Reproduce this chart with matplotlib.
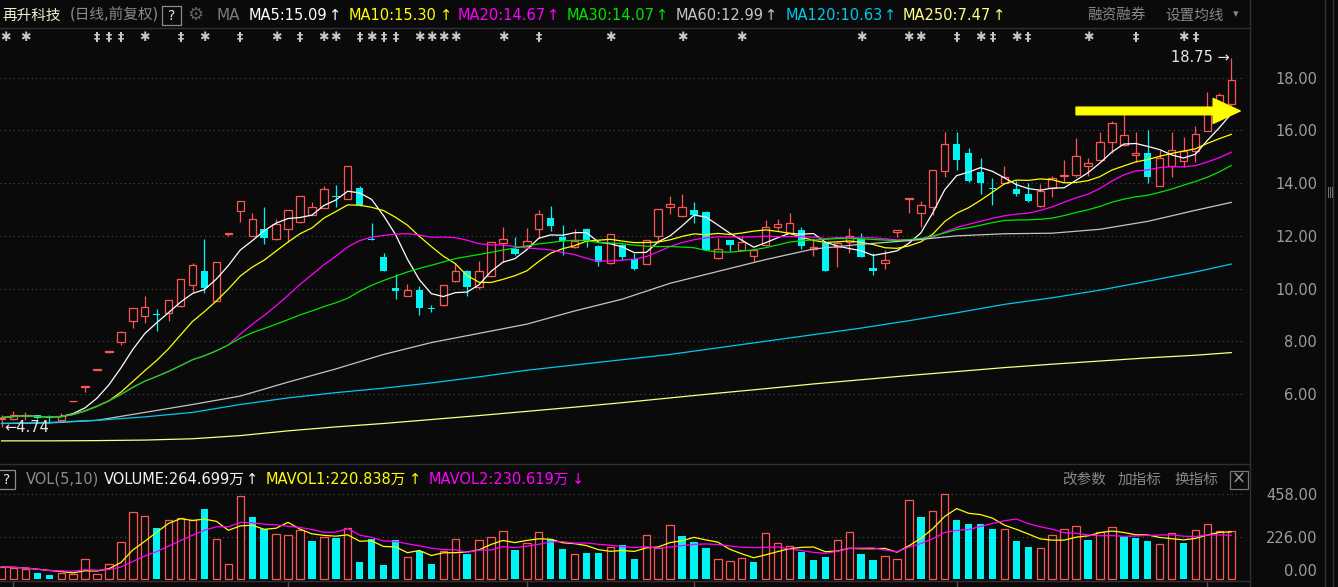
import numpy as np
import pandas as pd
import matplotlib
matplotlib.use('Agg')
import matplotlib.pyplot as plt
from matplotlib.patches import Rectangle

plt.rcParams['font.family'] = ['DejaVu Sans', 'Noto Sans CJK SC']

# daily bars (left -> right)
opens = [5.05, 5.04, 5.18, 5.19, 5.14, 5.03, 5.72, 6.28, 6.92, 7.61,
         7.96, 8.78, 8.97, 9.05, 9.08, 9.32, 10.12, 10.66, 9.54, 12.08,
         12.95, 12.00, 12.26, 11.87, 12.25, 12.54, 12.80, 13.07, 13.53, 13.38,
         13.80, 11.86, 11.20, 10.03, 9.73, 9.94, 9.25, 9.36, 10.27, 10.66,
         10.05, 10.46, 11.74, 11.51, 11.62, 12.25, 12.68, 11.94, 11.57, 12.25,
         11.62, 10.96, 11.65, 11.11, 10.94, 12.00, 13.08, 12.74, 12.97, 12.89,
         11.17, 11.83, 11.46, 11.25, 11.64, 12.35, 12.12, 12.22, 11.52, 11.71,
         11.56, 11.75, 11.88, 10.78, 10.96, 12.14, 13.40, 12.88, 13.10, 14.47,
         15.48, 15.14, 14.42, 13.82, 13.99, 13.78, 13.59, 13.14, 13.83, 14.28,
         14.31, 14.66, 14.88, 15.55, 15.43, 15.05, 15.13, 13.89, 14.65, 14.85,
         15.22, 15.99, 16.95, 17.00]
highs = [5.20, 5.35, 5.30, 5.22, 5.20, 5.26, 5.73, 6.30, 6.93, 7.62,
         8.38, 9.25, 9.72, 9.21, 9.58, 10.35, 10.96, 11.87, 11.00, 12.10,
         13.31, 12.88, 13.08, 12.64, 12.98, 13.50, 13.28, 13.89, 13.93, 14.64,
         13.89, 12.47, 11.34, 10.54, 10.16, 10.10, 9.37, 10.12, 10.96, 10.70,
         11.04, 11.75, 12.35, 11.94, 12.28, 12.98, 13.13, 12.40, 12.25, 12.30,
         11.65, 12.08, 11.70, 11.34, 11.85, 13.02, 13.51, 13.59, 13.27, 12.93,
         11.93, 11.85, 12.00, 11.50, 12.60, 12.64, 12.88, 12.33, 11.90, 11.72,
         11.78, 12.28, 12.10, 11.34, 11.46, 12.21, 13.42, 13.32, 14.49, 15.95,
         15.95, 15.33, 14.95, 14.18, 14.65, 14.08, 13.99, 13.97, 14.27, 14.88,
         15.72, 14.96, 15.95, 16.36, 16.62, 15.95, 16.02, 15.26, 15.95, 15.74,
         16.17, 17.47, 17.43, 18.75]
lows = [4.74, 5.00, 5.03, 5.05, 4.88, 4.98, 5.70, 6.08, 6.92, 7.55,
        7.86, 8.49, 8.70, 8.40, 8.78, 9.30, 9.88, 9.84, 9.54, 12.00,
        12.54, 12.00, 11.69, 11.85, 11.78, 12.50, 12.78, 13.05, 13.10, 13.38,
        13.15, 11.84, 10.66, 9.60, 9.72, 9.00, 9.10, 9.33, 10.25, 9.73,
        10.00, 10.44, 11.02, 11.28, 11.60, 11.90, 12.19, 11.26, 11.55, 11.59,
        10.87, 10.95, 11.10, 10.70, 10.92, 11.74, 12.82, 12.72, 12.50, 11.48,
        11.14, 11.43, 11.44, 11.00, 11.60, 12.22, 12.10, 11.50, 11.25, 10.66,
        10.82, 11.36, 11.18, 10.52, 10.73, 11.97, 12.85, 12.35, 12.79, 14.24,
        14.50, 14.05, 13.59, 13.18, 13.97, 13.52, 13.30, 13.10, 13.48, 14.05,
        14.22, 14.27, 14.85, 15.13, 15.40, 14.81, 14.02, 13.88, 14.22, 14.63,
        14.81, 15.98, 16.90, 16.80]
closes = [5.10, 5.19, 5.20, 5.09, 5.08, 5.17, 5.73, 6.30, 6.93, 7.62,
          8.36, 9.25, 9.29, 9.00, 9.55, 10.35, 10.88, 10.03, 11.00, 12.10,
          13.31, 12.63, 11.93, 12.45, 12.97, 13.50, 13.08, 13.76, 13.49, 14.64,
          13.17, 11.85, 10.68, 9.92, 9.95, 9.27, 9.22, 10.12, 10.66, 10.07,
          10.66, 11.75, 11.87, 11.32, 11.79, 12.82, 12.38, 11.80, 11.82, 11.80,
          11.00, 12.08, 11.20, 10.74, 11.84, 13.01, 13.21, 13.08, 12.80, 11.48,
          11.49, 11.66, 11.76, 11.46, 12.32, 12.44, 12.49, 11.61, 11.58, 10.68,
          11.74, 11.98, 11.21, 10.68, 11.08, 12.21, 13.42, 13.16, 14.49, 15.47,
          14.89, 14.08, 14.02, 13.78, 14.24, 13.60, 13.33, 13.71, 14.18, 14.30,
          15.03, 14.76, 15.55, 16.27, 15.81, 15.13, 14.22, 14.94, 15.26, 15.22,
          15.85, 16.85, 17.34, 17.91]
# volume in 万 shares
volumes = [66, 63, 54, 34, 22, 36, 27, 111, 27, 84,
           203, 364, 343, 274, 321, 328, 317, 378, 215, 80,
           446, 335, 269, 244, 238, 265, 206, 229, 222, 274,
           93, 217, 77, 211, 118, 152, 82, 150, 215, 136,
           210, 226, 258, 158, 194, 253, 215, 163, 134, 142,
           142, 172, 185, 109, 237, 167, 290, 233, 201, 168,
           108, 97, 113, 93, 247, 194, 178, 147, 104, 120,
           210, 253, 136, 104, 128, 108, 425, 335, 366, 457,
           319, 299, 299, 271, 269, 206, 174, 167, 237, 269,
           285, 211, 254, 280, 229, 224, 206, 188, 247, 195,
           265, 296, 260, 260]

# long averages need history before the window, so read them off the chart
long_idx = list(range(0, 101, 4)) + [103]
ma60 = [4.88, 4.90, 5.00, 5.30, 5.60, 5.92, 6.45, 6.95, 7.50, 7.95, 8.30, 8.65, 9.15, 9.60,
        10.20, 10.65, 11.10, 11.50, 11.68, 11.82, 12.00, 12.08, 12.10, 12.25, 12.55, 12.97, 13.27]
ma120 = [4.88, 4.92, 5.00, 5.13, 5.30, 5.60, 5.85, 6.05, 6.22, 6.42, 6.65, 6.90, 7.10, 7.30,
         7.50, 7.75, 8.00, 8.25, 8.50, 8.78, 9.08, 9.40, 9.65, 9.94, 10.28, 10.63, 10.93]
ma250 = [4.22, 4.22, 4.23, 4.25, 4.30, 4.42, 4.60, 4.75, 4.88, 5.03, 5.18, 5.34, 5.50, 5.67,
         5.85, 6.03, 6.20, 6.38, 6.54, 6.70, 6.85, 7.00, 7.13, 7.25, 7.37, 7.47, 7.57]

# event markers in the top row
mark_wide = [0, 2, 12, 17, 23, 27, 28, 31, 35, 36, 37, 38, 42, 51, 57, 62, 72, 76, 77, 82, 85, 91, 99]
mark_narrow = [8, 9, 10, 15, 20, 25, 30, 32, 33, 45, 80, 83, 86, 95, 100]
month_ticks = [1, 24, 44, 58, 80, 101]

price_ticks = [6, 8, 10, 12, 14, 16, 18]
vol_ticks = [226, 458]

ma_labels = ['MA5:15.09', 'MA10:15.30', 'MA20:14.67', 'MA30:14.07',
             'MA60:12.99', 'MA120:10.63', 'MA250:7.47']
vol_labels = ['VOLUME:264.699万', 'MAVOL1:220.838万', 'MAVOL2:230.619万']
vol_arrows = ['↑', '↑', '↓']

W, H = 1338, 587
BG = '#0a0a0a'
UP = '#ff5454'
DN = '#00f4f4'
LINE = '#303030'
GRID = '#4c4c4c'
AXTXT = '#9c9c9c'
ma_colors = ['#ffffff', '#ffff00', '#ff00ff', '#00e400', '#c4c4c4', '#00c8ec', '#ffff80']

fig = plt.figure(figsize=(W / 100, H / 100), dpi=100, facecolor=BG)


def px_axes(x0, y0, x1, y1):
    a = fig.add_axes([x0 / W, 1 - y1 / H, (x1 - x0) / W, (y1 - y0) / H])
    a.set_facecolor(BG)
    for s in a.spines.values():
        s.set_visible(False)
    a.set_xticks([])
    return a


def ftext(x, y, s, color, size=10.5, ha='left', **kw):
    fig.text(x / W, 1 - y / H, s, color=color, fontsize=size, ha=ha, va='center', **kw)


def fline(x0, y0, x1, y1, color=LINE, lw=1.0):
    fig.add_artist(plt.Line2D([x0 / W, x1 / W], [1 - y0 / H, 1 - y1 / H],
                              color=color, lw=lw, transform=fig.transFigure))


def fbox(x0, y0, x1, y1, color):
    fig.add_artist(Rectangle((x0 / W, 1 - y1 / H), (x1 - x0) / W, (y1 - y0) / H,
                             fill=False, ec=color, lw=0.9, transform=fig.transFigure))


n = len(closes)
x = np.arange(n)
o = np.array(opens)
h = np.array(highs)
l = np.array(lows)
c = np.array(closes)
v = np.array(volumes)
XL = (-0.126, 104.15)

# ---- price panel ----
ax = px_axes(0, 29, 1245, 463)
ax.set_xlim(*XL)
ax.set_ylim(3.38, 19.85)
ax.hlines(price_ticks, XL[0], XL[1], colors=GRID, linestyles=(0, (1, 3)), lw=0.8, zorder=0)

up = c >= o
lo = np.minimum(o, c)
hi = np.maximum(o, c)
body = np.maximum(hi - lo, 0.025)
ax.vlines(x[up], hi[up], h[up], color=UP, lw=0.9, zorder=2)
ax.vlines(x[up], l[up], lo[up], color=UP, lw=0.9, zorder=2)
ax.vlines(x[~up], l[~up], h[~up], color=DN, lw=0.9, zorder=2)
ax.bar(x[up], body[up], bottom=lo[up], width=0.62, facecolor=BG, edgecolor=UP, lw=0.9, zorder=3)
ax.bar(x[~up], body[~up], bottom=lo[~up], width=0.62, color=DN, lw=0, zorder=3)

close_s = pd.Series(closes)
for p, col in zip([5, 10, 20, 30], ma_colors[:4]):
    ax.plot(x, close_s.rolling(p, min_periods=1).mean(), color=col, lw=0.9, zorder=4)
for vals, col in zip([ma60, ma120, ma250], ma_colors[4:]):
    ax.plot(long_idx, vals, color=col, lw=0.9, zorder=4)

ax.yaxis.tick_right()
ax.set_yticks(price_ticks)
ax.set_yticklabels([f'{t:.2f}' for t in price_ticks])
ax.tick_params(axis='y', length=0, pad=52, labelsize=10.5, labelcolor=AXTXT)
for t in ax.get_yticklabels():
    t.set_horizontalalignment('right')

# marker row
tr = ax.get_xaxis_transform()
for k in mark_wide:
    ax.text(max(k, 0.3), 0.9804, '✱', transform=tr, color='#c8c8c8', fontsize=9,
            ha='center', va='center')
for k in mark_narrow:
    ax.text(k, 0.9804, '‡', transform=tr, color='#c8c8c8', fontsize=9, ha='center', va='center',
            fontweight='bold')

# extreme labels
kmax = int(np.argmax(h))
kmin = int(np.argmin(l))
ax.text(kmax - 0.15, h[kmax], f'{h[kmax]:.2f} →', color='#e6e6e6', fontsize=10.5,
        ha='right', va='center', zorder=6)
ax.text(kmin + 0.2, l[kmin], f'←{l[kmin]:.2f}', color='#e6e6e6', fontsize=10.5,
        ha='left', va='center', zorder=6)

# yellow arrow
arrow_from, arrow_to, arrow_lvl = 90.0, 103.75, 16.74
ax.annotate('', xy=(arrow_to, arrow_lvl), xytext=(arrow_from, arrow_lvl),
            arrowprops=dict(arrowstyle='simple,head_length=1.95,head_width=1.8,tail_width=0.55',
                            mutation_scale=10, color='#ffff00', shrinkA=0, shrinkB=0),
            zorder=7)

# ---- volume panel ----
axv = px_axes(0, 490, 1245, 581)
axv.set_xlim(*XL)
axv.set_ylim(-9.1, 480.4)
axv.hlines(vol_ticks, XL[0], XL[1], colors=GRID, linestyles=(0, (1, 3)), lw=0.8, zorder=0)
prev = np.r_[o[0], c[:-1]]
vup = c >= prev
axv.bar(x[vup], v[vup], width=0.62, facecolor=BG, edgecolor=UP, lw=0.9, zorder=2)
axv.bar(x[~vup], v[~vup], width=0.62, color=DN, lw=0, zorder=2)
vol_s = pd.Series(volumes)
axv.plot(x, vol_s.rolling(5, min_periods=1).mean(), color='#ffff00', lw=0.9, zorder=3)
axv.plot(x, vol_s.rolling(10, min_periods=1).mean(), color='#ff00ff', lw=0.9, zorder=3)
axv.yaxis.tick_right()
axv.set_yticks([0] + vol_ticks)
axv.set_yticklabels(['0.00'] + [f'{t:.2f}' for t in vol_ticks])
axv.tick_params(axis='y', length=0, pad=52, labelsize=10.5, labelcolor=AXTXT)
for t in axv.get_yticklabels():
    t.set_horizontalalignment('right')
axv.get_yticklabels()[0].set_verticalalignment('bottom')
axv.vlines(month_ticks, -0.075, 0.0, transform=axv.get_xaxis_transform(),
           colors='#505050', lw=1, clip_on=False)

# ---- frame lines ----
fline(0, 28, 1250, 28)
fline(0, 463.5, 1250, 463.5)
fline(0, 581, 1250, 581)
fline(1250, 0, 1250, H)
fline(1325, 0, 1325, H)
fline(1333, 0, 1333, H)
for xx in (1327.5, 1329.5, 1331.5):
    fline(xx, 187, xx, 197, color='#777777', lw=0.7)

# ---- header ----
ftext(2, 15, '再升科技', '#eeeed2', 10.5)
ftext(70, 15, '(日线,前复权)', '#8c8c8c', 10.5)
fbox(162, 6, 181, 25, '#8c8c8c')
ftext(171.5, 15.5, '?', '#e0e0e0', 10, ha='center')
ftext(195, 15, '⚙', '#606060', 13, ha='center')
ftext(217, 15, 'MA', '#7c7c7c', 11)
label_x = [249, 349, 458, 567, 676, 786, 903]
arrow_x = [335, 446, 553, 662, 771, 890, 999]
for s, lx, axx, col in zip(ma_labels, label_x, arrow_x, ma_colors):
    ftext(lx, 15, s, col, 10.5)
    ftext(axx, 15, '↑', col, 10.5, ha='center')
ftext(1087, 15, '融资融券', '#888888', 10.5)
ftext(1165, 15, '设置均线', '#888888', 10.5)
ftext(1236, 14, '▾', '#888888', 8, ha='center')

# volume header
fbox(-2, 470, 15, 489, '#8c8c8c')
ftext(7, 479.5, '?', '#e0e0e0', 10, ha='center')
ftext(26, 479, 'VOL(5,10)', '#8c8c8c', 10.5)
vol_x = [104, 266, 429]
varr_x = [252, 415, 578]
vol_cols = ['#f2f2f2', '#ffff00', '#ff00ff']
for s, lx, axx, a, col in zip(vol_labels, vol_x, varr_x, vol_arrows, vol_cols):
    ftext(lx, 479, s, col, 10.5)
    ftext(axx, 479, a, col, 10.5, ha='center')
ftext(1062, 479, '改参数', '#888888', 10.5)
ftext(1118, 479, '加指标', '#888888', 10.5)
ftext(1174, 479, '换指标', '#888888', 10.5)
fbox(1230, 470.5, 1248, 488.5, '#777777')
ftext(1239, 479, '×', '#999999', 12, ha='center')

fig.savefig('out.png', dpi=100, facecolor=BG)
